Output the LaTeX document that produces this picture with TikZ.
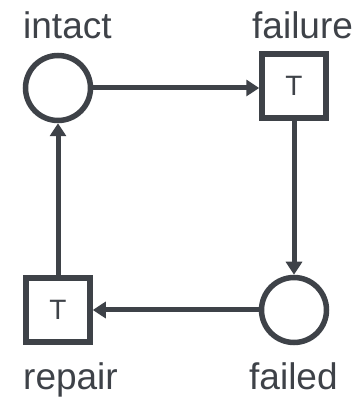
\documentclass[tikz,border=0pt]{standalone}
\usepackage{fontspec}
\setmainfont{Liberation Sans}
\usetikzlibrary{arrows.meta}
\definecolor{ink}{RGB}{62,66,72}
\begin{document}
\begin{tikzpicture}[x=1pt,y=1pt,
  place/.style={circle,draw=ink,line width=5.5pt,minimum size=65pt,inner sep=0pt},
  trans/.style={rectangle,draw=ink,line width=5.5pt,minimum size=64pt,inner sep=0pt,text=ink,font=\fontsize{28}{30}\selectfont},
  lbl/.style={anchor=base west,inner sep=0pt,text=ink,font=\fontsize{37}{40}\selectfont},
  arc/.style={draw=ink,line width=5pt,-{Triangle[length=13pt,width=16pt]}}]
\useasboundingbox (0,0) rectangle (361,398);
\node[place] (intact) at (58,310) {};
\node[trans] (failure) at (294,312) {T};
\node[place] (failed) at (294,88) {};
\node[trans] (repair) at (58,88) {T};
\node[lbl] (lintact) at (23,359) {intact};
\node[lbl] (lfailure) at (252,359) {failure};
\node[lbl] (lrepair) at (23,9) {repair};
\node[lbl] (lfailed) at (249,9) {failed};
\draw[arc] (intact.east) -- (failure.west |- intact.east);
\draw[arc] (failure.south) -- (failed.north);
\draw[arc] (failed.west) -- (repair.east);
\draw[arc] (repair.north) -- (intact.south);
\end{tikzpicture}
\end{document}
